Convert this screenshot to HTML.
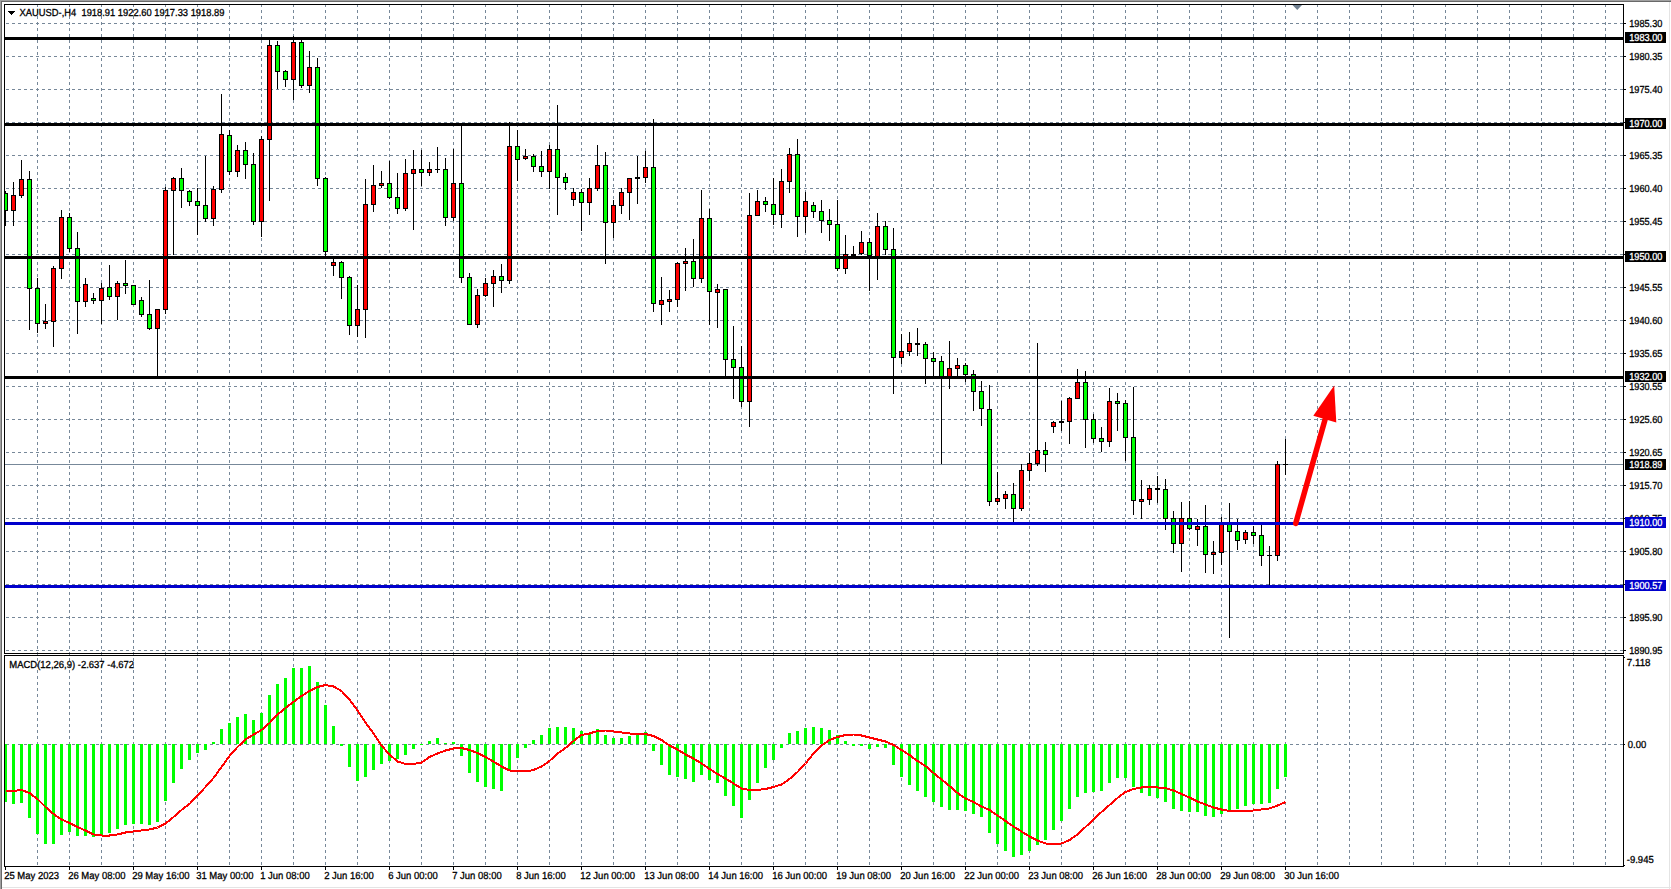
<!DOCTYPE html>
<html><head><meta charset="utf-8"><title>XAUUSD H4</title>
<style>
html,body{margin:0;padding:0;background:#fff;overflow:hidden}
svg{display:block;font-family:"Liberation Sans",sans-serif;text-rendering:geometricPrecision}
</style></head><body>
<svg width="1671" height="889" viewBox="0 0 1671 889">
<defs>
<clipPath id="cm"><rect x="5" y="5" width="1618" height="648"/></clipPath>
<clipPath id="cs"><rect x="5" y="656" width="1618" height="210"/></clipPath>
</defs>
<rect x="0" y="0" width="1671" height="889" fill="#fff"/>
<rect x="0" y="0" width="1671" height="1" fill="#a0a0a0"/>
<rect x="0" y="0" width="1" height="889" fill="#a0a0a0"/>
<rect x="1" y="1" width="1671" height="1" fill="#696969"/>
<rect x="1" y="1" width="1" height="889" fill="#696969"/>
<rect x="1669" y="2" width="1" height="889" fill="#e4e4e4"/>
<rect x="2" y="887" width="1671" height="1" fill="#e4e4e4"/>
<g shape-rendering="crispEdges" stroke="#778899" stroke-width="1" stroke-dasharray="3 3" fill="none">
<line x1="37.5" y1="4" x2="37.5" y2="866"/>
<line x1="69.5" y1="4" x2="69.5" y2="866"/>
<line x1="101.5" y1="4" x2="101.5" y2="866"/>
<line x1="133.5" y1="4" x2="133.5" y2="866"/>
<line x1="165.5" y1="4" x2="165.5" y2="866"/>
<line x1="197.5" y1="4" x2="197.5" y2="866"/>
<line x1="229.5" y1="4" x2="229.5" y2="866"/>
<line x1="261.5" y1="4" x2="261.5" y2="866"/>
<line x1="293.5" y1="4" x2="293.5" y2="866"/>
<line x1="325.5" y1="4" x2="325.5" y2="866"/>
<line x1="357.5" y1="4" x2="357.5" y2="866"/>
<line x1="389.5" y1="4" x2="389.5" y2="866"/>
<line x1="421.5" y1="4" x2="421.5" y2="866"/>
<line x1="453.5" y1="4" x2="453.5" y2="866"/>
<line x1="485.5" y1="4" x2="485.5" y2="866"/>
<line x1="517.5" y1="4" x2="517.5" y2="866"/>
<line x1="549.5" y1="4" x2="549.5" y2="866"/>
<line x1="581.5" y1="4" x2="581.5" y2="866"/>
<line x1="613.5" y1="4" x2="613.5" y2="866"/>
<line x1="645.5" y1="4" x2="645.5" y2="866"/>
<line x1="677.5" y1="4" x2="677.5" y2="866"/>
<line x1="709.5" y1="4" x2="709.5" y2="866"/>
<line x1="741.5" y1="4" x2="741.5" y2="866"/>
<line x1="773.5" y1="4" x2="773.5" y2="866"/>
<line x1="805.5" y1="4" x2="805.5" y2="866"/>
<line x1="837.5" y1="4" x2="837.5" y2="866"/>
<line x1="869.5" y1="4" x2="869.5" y2="866"/>
<line x1="901.5" y1="4" x2="901.5" y2="866"/>
<line x1="933.5" y1="4" x2="933.5" y2="866"/>
<line x1="965.5" y1="4" x2="965.5" y2="866"/>
<line x1="997.5" y1="4" x2="997.5" y2="866"/>
<line x1="1029.5" y1="4" x2="1029.5" y2="866"/>
<line x1="1061.5" y1="4" x2="1061.5" y2="866"/>
<line x1="1093.5" y1="4" x2="1093.5" y2="866"/>
<line x1="1125.5" y1="4" x2="1125.5" y2="866"/>
<line x1="1157.5" y1="4" x2="1157.5" y2="866"/>
<line x1="1189.5" y1="4" x2="1189.5" y2="866"/>
<line x1="1221.5" y1="4" x2="1221.5" y2="866"/>
<line x1="1253.5" y1="4" x2="1253.5" y2="866"/>
<line x1="1285.5" y1="4" x2="1285.5" y2="866"/>
<line x1="1317.5" y1="4" x2="1317.5" y2="866"/>
<line x1="1349.5" y1="4" x2="1349.5" y2="866"/>
<line x1="1381.5" y1="4" x2="1381.5" y2="866"/>
<line x1="1413.5" y1="4" x2="1413.5" y2="866"/>
<line x1="1445.5" y1="4" x2="1445.5" y2="866"/>
<line x1="1477.5" y1="4" x2="1477.5" y2="866"/>
<line x1="1509.5" y1="4" x2="1509.5" y2="866"/>
<line x1="1541.5" y1="4" x2="1541.5" y2="866"/>
<line x1="1573.5" y1="4" x2="1573.5" y2="866"/>
<line x1="1605.5" y1="4" x2="1605.5" y2="866"/>
<line x1="6" y1="23.5" x2="1623" y2="23.5"/>
<line x1="6" y1="56.5" x2="1623" y2="56.5"/>
<line x1="6" y1="89.5" x2="1623" y2="89.5"/>
<line x1="6" y1="122.5" x2="1623" y2="122.5"/>
<line x1="6" y1="155.5" x2="1623" y2="155.5"/>
<line x1="6" y1="188.5" x2="1623" y2="188.5"/>
<line x1="6" y1="221.5" x2="1623" y2="221.5"/>
<line x1="6" y1="254.5" x2="1623" y2="254.5"/>
<line x1="6" y1="287.5" x2="1623" y2="287.5"/>
<line x1="6" y1="320.5" x2="1623" y2="320.5"/>
<line x1="6" y1="353.5" x2="1623" y2="353.5"/>
<line x1="6" y1="386.5" x2="1623" y2="386.5"/>
<line x1="6" y1="419.5" x2="1623" y2="419.5"/>
<line x1="6" y1="452.5" x2="1623" y2="452.5"/>
<line x1="6" y1="485.5" x2="1623" y2="485.5"/>
<line x1="6" y1="518.5" x2="1623" y2="518.5"/>
<line x1="6" y1="551.5" x2="1623" y2="551.5"/>
<line x1="6" y1="584.5" x2="1623" y2="584.5"/>
<line x1="6" y1="617.5" x2="1623" y2="617.5"/>
<line x1="6" y1="650.5" x2="1623" y2="650.5"/>
<line x1="6" y1="744.5" x2="1623" y2="744.5"/>
</g>
<g shape-rendering="crispEdges">
<rect x="5" y="464" width="1618" height="1" fill="#778899"/>
</g>
<g shape-rendering="crispEdges" clip-path="url(#cm)">
<rect x="5" y="191" width="1" height="35" fill="#000"/>
<rect x="3" y="193" width="5" height="18" fill="#000"/>
<rect x="4" y="194" width="3" height="16" fill="#00ff00"/>
<rect x="13" y="182" width="1" height="44" fill="#000"/>
<rect x="11" y="195" width="5" height="16" fill="#000"/>
<rect x="12" y="196" width="3" height="14" fill="#ff0000"/>
<rect x="21" y="160" width="1" height="38" fill="#000"/>
<rect x="19" y="179" width="5" height="17" fill="#000"/>
<rect x="20" y="180" width="3" height="15" fill="#ff0000"/>
<rect x="29" y="171" width="1" height="159" fill="#000"/>
<rect x="27" y="179" width="5" height="110" fill="#000"/>
<rect x="28" y="180" width="3" height="108" fill="#00ff00"/>
<rect x="37" y="278" width="1" height="55" fill="#000"/>
<rect x="35" y="288" width="5" height="36" fill="#000"/>
<rect x="36" y="289" width="3" height="34" fill="#00ff00"/>
<rect x="45" y="304" width="1" height="25" fill="#000"/>
<rect x="43" y="321" width="5" height="3" fill="#000"/>
<rect x="44" y="322" width="3" height="1" fill="#ff0000"/>
<rect x="53" y="266" width="1" height="81" fill="#000"/>
<rect x="51" y="268" width="5" height="54" fill="#000"/>
<rect x="52" y="269" width="3" height="52" fill="#ff0000"/>
<rect x="61" y="210" width="1" height="69" fill="#000"/>
<rect x="59" y="217" width="5" height="52" fill="#000"/>
<rect x="60" y="218" width="3" height="50" fill="#ff0000"/>
<rect x="69" y="213" width="1" height="39" fill="#000"/>
<rect x="67" y="217" width="5" height="32" fill="#000"/>
<rect x="68" y="218" width="3" height="30" fill="#00ff00"/>
<rect x="77" y="232" width="1" height="102" fill="#000"/>
<rect x="75" y="248" width="5" height="54" fill="#000"/>
<rect x="76" y="249" width="3" height="52" fill="#00ff00"/>
<rect x="85" y="278" width="1" height="29" fill="#000"/>
<rect x="83" y="284" width="5" height="18" fill="#000"/>
<rect x="84" y="285" width="3" height="16" fill="#ff0000"/>
<rect x="93" y="293" width="1" height="11" fill="#000"/>
<rect x="91" y="298" width="5" height="3" fill="#000"/>
<rect x="92" y="299" width="3" height="1" fill="#00ff00"/>
<rect x="101" y="283" width="1" height="41" fill="#000"/>
<rect x="99" y="288" width="5" height="13" fill="#000"/>
<rect x="100" y="289" width="3" height="11" fill="#ff0000"/>
<rect x="109" y="265" width="1" height="35" fill="#000"/>
<rect x="107" y="287" width="5" height="10" fill="#000"/>
<rect x="108" y="288" width="3" height="8" fill="#00ff00"/>
<rect x="117" y="281" width="1" height="39" fill="#000"/>
<rect x="115" y="283" width="5" height="14" fill="#000"/>
<rect x="116" y="284" width="3" height="12" fill="#ff0000"/>
<rect x="125" y="260" width="1" height="34" fill="#000"/>
<rect x="123" y="283" width="5" height="3" fill="#000"/>
<rect x="124" y="284" width="3" height="1" fill="#00ff00"/>
<rect x="133" y="285" width="1" height="20" fill="#000"/>
<rect x="131" y="285" width="5" height="20" fill="#000"/>
<rect x="132" y="286" width="3" height="18" fill="#00ff00"/>
<rect x="141" y="297" width="1" height="20" fill="#000"/>
<rect x="139" y="300" width="5" height="15" fill="#000"/>
<rect x="140" y="301" width="3" height="13" fill="#00ff00"/>
<rect x="149" y="280" width="1" height="50" fill="#000"/>
<rect x="147" y="314" width="5" height="15" fill="#000"/>
<rect x="148" y="315" width="3" height="13" fill="#00ff00"/>
<rect x="157" y="309" width="1" height="67" fill="#000"/>
<rect x="155" y="309" width="5" height="20" fill="#000"/>
<rect x="156" y="310" width="3" height="18" fill="#ff0000"/>
<rect x="165" y="187" width="1" height="127" fill="#000"/>
<rect x="163" y="190" width="5" height="120" fill="#000"/>
<rect x="164" y="191" width="3" height="118" fill="#ff0000"/>
<rect x="173" y="177" width="1" height="78" fill="#000"/>
<rect x="171" y="178" width="5" height="13" fill="#000"/>
<rect x="172" y="179" width="3" height="11" fill="#ff0000"/>
<rect x="181" y="168" width="1" height="40" fill="#000"/>
<rect x="179" y="178" width="5" height="13" fill="#000"/>
<rect x="180" y="179" width="3" height="11" fill="#00ff00"/>
<rect x="189" y="190" width="1" height="16" fill="#000"/>
<rect x="187" y="191" width="5" height="11" fill="#000"/>
<rect x="188" y="192" width="3" height="9" fill="#00ff00"/>
<rect x="197" y="188" width="1" height="47" fill="#000"/>
<rect x="195" y="201" width="5" height="5" fill="#000"/>
<rect x="196" y="202" width="3" height="3" fill="#00ff00"/>
<rect x="205" y="156" width="1" height="66" fill="#000"/>
<rect x="203" y="205" width="5" height="14" fill="#000"/>
<rect x="204" y="206" width="3" height="12" fill="#00ff00"/>
<rect x="213" y="186" width="1" height="40" fill="#000"/>
<rect x="211" y="189" width="5" height="30" fill="#000"/>
<rect x="212" y="190" width="3" height="28" fill="#ff0000"/>
<rect x="221" y="94" width="1" height="99" fill="#000"/>
<rect x="219" y="134" width="5" height="56" fill="#000"/>
<rect x="220" y="135" width="3" height="54" fill="#ff0000"/>
<rect x="229" y="130" width="1" height="45" fill="#000"/>
<rect x="227" y="135" width="5" height="37" fill="#000"/>
<rect x="228" y="136" width="3" height="35" fill="#00ff00"/>
<rect x="237" y="145" width="1" height="32" fill="#000"/>
<rect x="235" y="150" width="5" height="22" fill="#000"/>
<rect x="236" y="151" width="3" height="20" fill="#ff0000"/>
<rect x="245" y="142" width="1" height="37" fill="#000"/>
<rect x="243" y="150" width="5" height="15" fill="#000"/>
<rect x="244" y="151" width="3" height="13" fill="#00ff00"/>
<rect x="253" y="153" width="1" height="72" fill="#000"/>
<rect x="251" y="164" width="5" height="58" fill="#000"/>
<rect x="252" y="165" width="3" height="56" fill="#00ff00"/>
<rect x="261" y="136" width="1" height="101" fill="#000"/>
<rect x="259" y="139" width="5" height="83" fill="#000"/>
<rect x="260" y="140" width="3" height="81" fill="#ff0000"/>
<rect x="269" y="39" width="1" height="162" fill="#000"/>
<rect x="267" y="45" width="5" height="95" fill="#000"/>
<rect x="268" y="46" width="3" height="93" fill="#ff0000"/>
<rect x="277" y="41" width="1" height="48" fill="#000"/>
<rect x="275" y="45" width="5" height="27" fill="#000"/>
<rect x="276" y="46" width="3" height="25" fill="#00ff00"/>
<rect x="285" y="70" width="1" height="17" fill="#000"/>
<rect x="283" y="71" width="5" height="9" fill="#000"/>
<rect x="284" y="72" width="3" height="7" fill="#00ff00"/>
<rect x="293" y="36" width="1" height="64" fill="#000"/>
<rect x="291" y="42" width="5" height="38" fill="#000"/>
<rect x="292" y="43" width="3" height="36" fill="#ff0000"/>
<rect x="301" y="40" width="1" height="48" fill="#000"/>
<rect x="299" y="42" width="5" height="44" fill="#000"/>
<rect x="300" y="43" width="3" height="42" fill="#00ff00"/>
<rect x="309" y="51" width="1" height="42" fill="#000"/>
<rect x="307" y="67" width="5" height="19" fill="#000"/>
<rect x="308" y="68" width="3" height="17" fill="#ff0000"/>
<rect x="317" y="58" width="1" height="128" fill="#000"/>
<rect x="315" y="67" width="5" height="112" fill="#000"/>
<rect x="316" y="68" width="3" height="110" fill="#00ff00"/>
<rect x="325" y="177" width="1" height="79" fill="#000"/>
<rect x="323" y="178" width="5" height="74" fill="#000"/>
<rect x="324" y="179" width="3" height="72" fill="#00ff00"/>
<rect x="333" y="259" width="1" height="17" fill="#000"/>
<rect x="331" y="262" width="5" height="4" fill="#000"/>
<rect x="332" y="263" width="3" height="2" fill="#ff0000"/>
<rect x="341" y="261" width="1" height="38" fill="#000"/>
<rect x="339" y="262" width="5" height="16" fill="#000"/>
<rect x="340" y="263" width="3" height="14" fill="#00ff00"/>
<rect x="349" y="276" width="1" height="59" fill="#000"/>
<rect x="347" y="277" width="5" height="49" fill="#000"/>
<rect x="348" y="278" width="3" height="47" fill="#00ff00"/>
<rect x="357" y="285" width="1" height="52" fill="#000"/>
<rect x="355" y="309" width="5" height="17" fill="#000"/>
<rect x="356" y="310" width="3" height="15" fill="#ff0000"/>
<rect x="365" y="179" width="1" height="159" fill="#000"/>
<rect x="363" y="204" width="5" height="106" fill="#000"/>
<rect x="364" y="205" width="3" height="104" fill="#ff0000"/>
<rect x="373" y="165" width="1" height="47" fill="#000"/>
<rect x="371" y="185" width="5" height="20" fill="#000"/>
<rect x="372" y="186" width="3" height="18" fill="#ff0000"/>
<rect x="381" y="171" width="1" height="17" fill="#000"/>
<rect x="379" y="183" width="5" height="3" fill="#000"/>
<rect x="380" y="184" width="3" height="1" fill="#ff0000"/>
<rect x="389" y="161" width="1" height="38" fill="#000"/>
<rect x="387" y="183" width="5" height="15" fill="#000"/>
<rect x="388" y="184" width="3" height="13" fill="#00ff00"/>
<rect x="397" y="173" width="1" height="41" fill="#000"/>
<rect x="395" y="197" width="5" height="12" fill="#000"/>
<rect x="396" y="198" width="3" height="10" fill="#00ff00"/>
<rect x="405" y="159" width="1" height="52" fill="#000"/>
<rect x="403" y="173" width="5" height="36" fill="#000"/>
<rect x="404" y="174" width="3" height="34" fill="#ff0000"/>
<rect x="413" y="150" width="1" height="80" fill="#000"/>
<rect x="411" y="169" width="5" height="5" fill="#000"/>
<rect x="412" y="170" width="3" height="3" fill="#ff0000"/>
<rect x="421" y="150" width="1" height="36" fill="#000"/>
<rect x="419" y="169" width="5" height="4" fill="#000"/>
<rect x="420" y="170" width="3" height="2" fill="#00ff00"/>
<rect x="429" y="162" width="1" height="14" fill="#000"/>
<rect x="427" y="169" width="5" height="4" fill="#000"/>
<rect x="428" y="170" width="3" height="2" fill="#ff0000"/>
<rect x="437" y="147" width="1" height="26" fill="#000"/>
<rect x="435" y="169" width="5" height="1" fill="#000"/>
<rect x="445" y="158" width="1" height="68" fill="#000"/>
<rect x="443" y="169" width="5" height="49" fill="#000"/>
<rect x="444" y="170" width="3" height="47" fill="#00ff00"/>
<rect x="453" y="149" width="1" height="72" fill="#000"/>
<rect x="451" y="183" width="5" height="35" fill="#000"/>
<rect x="452" y="184" width="3" height="33" fill="#ff0000"/>
<rect x="461" y="123" width="1" height="160" fill="#000"/>
<rect x="459" y="183" width="5" height="95" fill="#000"/>
<rect x="460" y="184" width="3" height="93" fill="#00ff00"/>
<rect x="469" y="273" width="1" height="52" fill="#000"/>
<rect x="467" y="277" width="5" height="48" fill="#000"/>
<rect x="468" y="278" width="3" height="46" fill="#00ff00"/>
<rect x="477" y="289" width="1" height="39" fill="#000"/>
<rect x="475" y="295" width="5" height="30" fill="#000"/>
<rect x="476" y="296" width="3" height="28" fill="#ff0000"/>
<rect x="485" y="278" width="1" height="19" fill="#000"/>
<rect x="483" y="283" width="5" height="13" fill="#000"/>
<rect x="484" y="284" width="3" height="11" fill="#ff0000"/>
<rect x="493" y="270" width="1" height="37" fill="#000"/>
<rect x="491" y="276" width="5" height="8" fill="#000"/>
<rect x="492" y="277" width="3" height="6" fill="#ff0000"/>
<rect x="501" y="264" width="1" height="29" fill="#000"/>
<rect x="499" y="276" width="5" height="5" fill="#000"/>
<rect x="500" y="277" width="3" height="3" fill="#00ff00"/>
<rect x="509" y="122" width="1" height="162" fill="#000"/>
<rect x="507" y="146" width="5" height="135" fill="#000"/>
<rect x="508" y="147" width="3" height="133" fill="#ff0000"/>
<rect x="517" y="130" width="1" height="51" fill="#000"/>
<rect x="515" y="146" width="5" height="14" fill="#000"/>
<rect x="516" y="147" width="3" height="12" fill="#00ff00"/>
<rect x="525" y="149" width="1" height="11" fill="#000"/>
<rect x="523" y="156" width="5" height="3" fill="#000"/>
<rect x="524" y="157" width="3" height="1" fill="#ff0000"/>
<rect x="533" y="154" width="1" height="18" fill="#000"/>
<rect x="531" y="156" width="5" height="11" fill="#000"/>
<rect x="532" y="157" width="3" height="9" fill="#00ff00"/>
<rect x="541" y="151" width="1" height="26" fill="#000"/>
<rect x="539" y="166" width="5" height="6" fill="#000"/>
<rect x="540" y="167" width="3" height="4" fill="#00ff00"/>
<rect x="549" y="145" width="1" height="44" fill="#000"/>
<rect x="547" y="149" width="5" height="23" fill="#000"/>
<rect x="548" y="150" width="3" height="21" fill="#ff0000"/>
<rect x="557" y="105" width="1" height="110" fill="#000"/>
<rect x="555" y="149" width="5" height="29" fill="#000"/>
<rect x="556" y="150" width="3" height="27" fill="#00ff00"/>
<rect x="565" y="173" width="1" height="17" fill="#000"/>
<rect x="563" y="177" width="5" height="6" fill="#000"/>
<rect x="564" y="178" width="3" height="4" fill="#00ff00"/>
<rect x="573" y="188" width="1" height="18" fill="#000"/>
<rect x="571" y="192" width="5" height="8" fill="#000"/>
<rect x="572" y="193" width="3" height="6" fill="#ff0000"/>
<rect x="581" y="189" width="1" height="42" fill="#000"/>
<rect x="579" y="192" width="5" height="11" fill="#000"/>
<rect x="580" y="193" width="3" height="9" fill="#00ff00"/>
<rect x="589" y="178" width="1" height="37" fill="#000"/>
<rect x="587" y="188" width="5" height="15" fill="#000"/>
<rect x="588" y="189" width="3" height="13" fill="#ff0000"/>
<rect x="597" y="145" width="1" height="46" fill="#000"/>
<rect x="595" y="165" width="5" height="24" fill="#000"/>
<rect x="596" y="166" width="3" height="22" fill="#ff0000"/>
<rect x="605" y="152" width="1" height="112" fill="#000"/>
<rect x="603" y="165" width="5" height="58" fill="#000"/>
<rect x="604" y="166" width="3" height="56" fill="#00ff00"/>
<rect x="613" y="200" width="1" height="38" fill="#000"/>
<rect x="611" y="205" width="5" height="18" fill="#000"/>
<rect x="612" y="206" width="3" height="16" fill="#ff0000"/>
<rect x="621" y="188" width="1" height="26" fill="#000"/>
<rect x="619" y="192" width="5" height="14" fill="#000"/>
<rect x="620" y="193" width="3" height="12" fill="#ff0000"/>
<rect x="629" y="178" width="1" height="42" fill="#000"/>
<rect x="627" y="178" width="5" height="15" fill="#000"/>
<rect x="628" y="179" width="3" height="13" fill="#ff0000"/>
<rect x="637" y="156" width="1" height="48" fill="#000"/>
<rect x="635" y="177" width="5" height="2" fill="#000"/>
<rect x="645" y="151" width="1" height="32" fill="#000"/>
<rect x="643" y="167" width="5" height="11" fill="#000"/>
<rect x="644" y="168" width="3" height="9" fill="#ff0000"/>
<rect x="653" y="119" width="1" height="193" fill="#000"/>
<rect x="651" y="167" width="5" height="137" fill="#000"/>
<rect x="652" y="168" width="3" height="135" fill="#00ff00"/>
<rect x="661" y="277" width="1" height="48" fill="#000"/>
<rect x="659" y="300" width="5" height="5" fill="#000"/>
<rect x="660" y="301" width="3" height="3" fill="#ff0000"/>
<rect x="669" y="290" width="1" height="22" fill="#000"/>
<rect x="667" y="299" width="5" height="3" fill="#000"/>
<rect x="668" y="300" width="3" height="1" fill="#ff0000"/>
<rect x="677" y="262" width="1" height="45" fill="#000"/>
<rect x="675" y="263" width="5" height="37" fill="#000"/>
<rect x="676" y="264" width="3" height="35" fill="#ff0000"/>
<rect x="685" y="248" width="1" height="43" fill="#000"/>
<rect x="683" y="261" width="5" height="3" fill="#000"/>
<rect x="684" y="262" width="3" height="1" fill="#ff0000"/>
<rect x="693" y="239" width="1" height="48" fill="#000"/>
<rect x="691" y="261" width="5" height="18" fill="#000"/>
<rect x="692" y="262" width="3" height="16" fill="#00ff00"/>
<rect x="701" y="190" width="1" height="93" fill="#000"/>
<rect x="699" y="218" width="5" height="61" fill="#000"/>
<rect x="700" y="219" width="3" height="59" fill="#ff0000"/>
<rect x="709" y="209" width="1" height="116" fill="#000"/>
<rect x="707" y="218" width="5" height="74" fill="#000"/>
<rect x="708" y="219" width="3" height="72" fill="#00ff00"/>
<rect x="717" y="284" width="1" height="44" fill="#000"/>
<rect x="715" y="289" width="5" height="4" fill="#000"/>
<rect x="716" y="290" width="3" height="2" fill="#ff0000"/>
<rect x="725" y="289" width="1" height="87" fill="#000"/>
<rect x="723" y="289" width="5" height="71" fill="#000"/>
<rect x="724" y="290" width="3" height="69" fill="#00ff00"/>
<rect x="733" y="326" width="1" height="73" fill="#000"/>
<rect x="731" y="359" width="5" height="9" fill="#000"/>
<rect x="732" y="360" width="3" height="7" fill="#00ff00"/>
<rect x="741" y="346" width="1" height="61" fill="#000"/>
<rect x="739" y="367" width="5" height="35" fill="#000"/>
<rect x="740" y="368" width="3" height="33" fill="#00ff00"/>
<rect x="749" y="193" width="1" height="234" fill="#000"/>
<rect x="747" y="215" width="5" height="187" fill="#000"/>
<rect x="748" y="216" width="3" height="185" fill="#ff0000"/>
<rect x="757" y="190" width="1" height="26" fill="#000"/>
<rect x="755" y="201" width="5" height="15" fill="#000"/>
<rect x="756" y="202" width="3" height="13" fill="#ff0000"/>
<rect x="765" y="197" width="1" height="15" fill="#000"/>
<rect x="763" y="201" width="5" height="4" fill="#000"/>
<rect x="764" y="202" width="3" height="2" fill="#00ff00"/>
<rect x="773" y="178" width="1" height="47" fill="#000"/>
<rect x="771" y="204" width="5" height="11" fill="#000"/>
<rect x="772" y="205" width="3" height="9" fill="#00ff00"/>
<rect x="781" y="169" width="1" height="59" fill="#000"/>
<rect x="779" y="181" width="5" height="34" fill="#000"/>
<rect x="780" y="182" width="3" height="32" fill="#ff0000"/>
<rect x="789" y="148" width="1" height="45" fill="#000"/>
<rect x="787" y="154" width="5" height="28" fill="#000"/>
<rect x="788" y="155" width="3" height="26" fill="#ff0000"/>
<rect x="797" y="139" width="1" height="98" fill="#000"/>
<rect x="795" y="154" width="5" height="63" fill="#000"/>
<rect x="796" y="155" width="3" height="61" fill="#00ff00"/>
<rect x="805" y="192" width="1" height="41" fill="#000"/>
<rect x="803" y="201" width="5" height="16" fill="#000"/>
<rect x="804" y="202" width="3" height="14" fill="#ff0000"/>
<rect x="813" y="202" width="1" height="16" fill="#000"/>
<rect x="811" y="205" width="5" height="7" fill="#000"/>
<rect x="812" y="206" width="3" height="5" fill="#00ff00"/>
<rect x="821" y="200" width="1" height="33" fill="#000"/>
<rect x="819" y="211" width="5" height="10" fill="#000"/>
<rect x="820" y="212" width="3" height="8" fill="#00ff00"/>
<rect x="829" y="209" width="1" height="32" fill="#000"/>
<rect x="827" y="220" width="5" height="5" fill="#000"/>
<rect x="828" y="221" width="3" height="3" fill="#00ff00"/>
<rect x="837" y="200" width="1" height="71" fill="#000"/>
<rect x="835" y="224" width="5" height="45" fill="#000"/>
<rect x="836" y="225" width="3" height="43" fill="#00ff00"/>
<rect x="845" y="235" width="1" height="39" fill="#000"/>
<rect x="843" y="254" width="5" height="15" fill="#000"/>
<rect x="844" y="255" width="3" height="13" fill="#ff0000"/>
<rect x="853" y="246" width="1" height="10" fill="#000"/>
<rect x="851" y="254" width="5" height="2" fill="#000"/>
<rect x="861" y="231" width="1" height="24" fill="#000"/>
<rect x="859" y="242" width="5" height="12" fill="#000"/>
<rect x="860" y="243" width="3" height="10" fill="#ff0000"/>
<rect x="869" y="238" width="1" height="53" fill="#000"/>
<rect x="867" y="242" width="5" height="14" fill="#000"/>
<rect x="868" y="243" width="3" height="12" fill="#00ff00"/>
<rect x="877" y="213" width="1" height="67" fill="#000"/>
<rect x="875" y="226" width="5" height="31" fill="#000"/>
<rect x="876" y="227" width="3" height="29" fill="#ff0000"/>
<rect x="885" y="221" width="1" height="34" fill="#000"/>
<rect x="883" y="226" width="5" height="24" fill="#000"/>
<rect x="884" y="227" width="3" height="22" fill="#00ff00"/>
<rect x="893" y="228" width="1" height="166" fill="#000"/>
<rect x="891" y="249" width="5" height="109" fill="#000"/>
<rect x="892" y="250" width="3" height="107" fill="#00ff00"/>
<rect x="901" y="334" width="1" height="30" fill="#000"/>
<rect x="899" y="351" width="5" height="7" fill="#000"/>
<rect x="900" y="352" width="3" height="5" fill="#ff0000"/>
<rect x="909" y="332" width="1" height="24" fill="#000"/>
<rect x="907" y="343" width="5" height="9" fill="#000"/>
<rect x="908" y="344" width="3" height="7" fill="#ff0000"/>
<rect x="917" y="328" width="1" height="28" fill="#000"/>
<rect x="915" y="343" width="5" height="2" fill="#000"/>
<rect x="925" y="342" width="1" height="42" fill="#000"/>
<rect x="923" y="344" width="5" height="15" fill="#000"/>
<rect x="924" y="345" width="3" height="13" fill="#00ff00"/>
<rect x="933" y="352" width="1" height="24" fill="#000"/>
<rect x="931" y="358" width="5" height="4" fill="#000"/>
<rect x="932" y="359" width="3" height="2" fill="#00ff00"/>
<rect x="941" y="356" width="1" height="108" fill="#000"/>
<rect x="939" y="361" width="5" height="17" fill="#000"/>
<rect x="940" y="362" width="3" height="15" fill="#00ff00"/>
<rect x="949" y="341" width="1" height="48" fill="#000"/>
<rect x="947" y="368" width="5" height="10" fill="#000"/>
<rect x="948" y="369" width="3" height="8" fill="#ff0000"/>
<rect x="957" y="358" width="1" height="18" fill="#000"/>
<rect x="955" y="365" width="5" height="4" fill="#000"/>
<rect x="956" y="366" width="3" height="2" fill="#ff0000"/>
<rect x="965" y="363" width="1" height="19" fill="#000"/>
<rect x="963" y="365" width="5" height="10" fill="#000"/>
<rect x="964" y="366" width="3" height="8" fill="#00ff00"/>
<rect x="973" y="370" width="1" height="41" fill="#000"/>
<rect x="971" y="374" width="5" height="18" fill="#000"/>
<rect x="972" y="375" width="3" height="16" fill="#00ff00"/>
<rect x="981" y="381" width="1" height="45" fill="#000"/>
<rect x="979" y="391" width="5" height="18" fill="#000"/>
<rect x="980" y="392" width="3" height="16" fill="#00ff00"/>
<rect x="989" y="385" width="1" height="121" fill="#000"/>
<rect x="987" y="409" width="5" height="93" fill="#000"/>
<rect x="988" y="410" width="3" height="91" fill="#00ff00"/>
<rect x="997" y="472" width="1" height="33" fill="#000"/>
<rect x="995" y="498" width="5" height="4" fill="#000"/>
<rect x="996" y="499" width="3" height="2" fill="#ff0000"/>
<rect x="1005" y="491" width="1" height="18" fill="#000"/>
<rect x="1003" y="494" width="5" height="5" fill="#000"/>
<rect x="1004" y="495" width="3" height="3" fill="#ff0000"/>
<rect x="1013" y="483" width="1" height="39" fill="#000"/>
<rect x="1011" y="494" width="5" height="15" fill="#000"/>
<rect x="1012" y="495" width="3" height="13" fill="#00ff00"/>
<rect x="1021" y="464" width="1" height="47" fill="#000"/>
<rect x="1019" y="470" width="5" height="39" fill="#000"/>
<rect x="1020" y="471" width="3" height="37" fill="#ff0000"/>
<rect x="1029" y="453" width="1" height="28" fill="#000"/>
<rect x="1027" y="463" width="5" height="8" fill="#000"/>
<rect x="1028" y="464" width="3" height="6" fill="#ff0000"/>
<rect x="1037" y="343" width="1" height="123" fill="#000"/>
<rect x="1035" y="450" width="5" height="14" fill="#000"/>
<rect x="1036" y="451" width="3" height="12" fill="#ff0000"/>
<rect x="1045" y="442" width="1" height="30" fill="#000"/>
<rect x="1043" y="450" width="5" height="5" fill="#000"/>
<rect x="1044" y="451" width="3" height="3" fill="#00ff00"/>
<rect x="1053" y="421" width="1" height="12" fill="#000"/>
<rect x="1051" y="422" width="5" height="5" fill="#000"/>
<rect x="1052" y="423" width="3" height="3" fill="#ff0000"/>
<rect x="1061" y="401" width="1" height="30" fill="#000"/>
<rect x="1059" y="421" width="5" height="2" fill="#000"/>
<rect x="1069" y="397" width="1" height="47" fill="#000"/>
<rect x="1067" y="398" width="5" height="24" fill="#000"/>
<rect x="1068" y="399" width="3" height="22" fill="#ff0000"/>
<rect x="1077" y="369" width="1" height="30" fill="#000"/>
<rect x="1075" y="382" width="5" height="17" fill="#000"/>
<rect x="1076" y="383" width="3" height="15" fill="#ff0000"/>
<rect x="1085" y="371" width="1" height="77" fill="#000"/>
<rect x="1083" y="382" width="5" height="38" fill="#000"/>
<rect x="1084" y="383" width="3" height="36" fill="#00ff00"/>
<rect x="1093" y="414" width="1" height="29" fill="#000"/>
<rect x="1091" y="419" width="5" height="20" fill="#000"/>
<rect x="1092" y="420" width="3" height="18" fill="#00ff00"/>
<rect x="1101" y="427" width="1" height="25" fill="#000"/>
<rect x="1099" y="438" width="5" height="4" fill="#000"/>
<rect x="1100" y="439" width="3" height="2" fill="#00ff00"/>
<rect x="1109" y="388" width="1" height="59" fill="#000"/>
<rect x="1107" y="401" width="5" height="41" fill="#000"/>
<rect x="1108" y="402" width="3" height="39" fill="#ff0000"/>
<rect x="1117" y="393" width="1" height="38" fill="#000"/>
<rect x="1115" y="401" width="5" height="3" fill="#000"/>
<rect x="1116" y="402" width="3" height="1" fill="#00ff00"/>
<rect x="1125" y="400" width="1" height="61" fill="#000"/>
<rect x="1123" y="403" width="5" height="35" fill="#000"/>
<rect x="1124" y="404" width="3" height="33" fill="#00ff00"/>
<rect x="1133" y="387" width="1" height="128" fill="#000"/>
<rect x="1131" y="437" width="5" height="64" fill="#000"/>
<rect x="1132" y="438" width="3" height="62" fill="#00ff00"/>
<rect x="1141" y="480" width="1" height="39" fill="#000"/>
<rect x="1139" y="499" width="5" height="3" fill="#000"/>
<rect x="1140" y="500" width="3" height="1" fill="#ff0000"/>
<rect x="1149" y="485" width="1" height="20" fill="#000"/>
<rect x="1147" y="488" width="5" height="12" fill="#000"/>
<rect x="1148" y="489" width="3" height="10" fill="#ff0000"/>
<rect x="1157" y="476" width="1" height="27" fill="#000"/>
<rect x="1155" y="488" width="5" height="2" fill="#000"/>
<rect x="1165" y="479" width="1" height="51" fill="#000"/>
<rect x="1163" y="489" width="5" height="30" fill="#000"/>
<rect x="1164" y="490" width="3" height="28" fill="#00ff00"/>
<rect x="1173" y="511" width="1" height="42" fill="#000"/>
<rect x="1171" y="518" width="5" height="26" fill="#000"/>
<rect x="1172" y="519" width="3" height="24" fill="#00ff00"/>
<rect x="1181" y="502" width="1" height="70" fill="#000"/>
<rect x="1179" y="518" width="5" height="26" fill="#000"/>
<rect x="1180" y="519" width="3" height="24" fill="#ff0000"/>
<rect x="1189" y="501" width="1" height="29" fill="#000"/>
<rect x="1187" y="518" width="5" height="11" fill="#000"/>
<rect x="1188" y="519" width="3" height="9" fill="#00ff00"/>
<rect x="1197" y="519" width="1" height="27" fill="#000"/>
<rect x="1195" y="526" width="5" height="4" fill="#000"/>
<rect x="1196" y="527" width="3" height="2" fill="#ff0000"/>
<rect x="1205" y="505" width="1" height="68" fill="#000"/>
<rect x="1203" y="526" width="5" height="29" fill="#000"/>
<rect x="1204" y="527" width="3" height="27" fill="#00ff00"/>
<rect x="1213" y="541" width="1" height="33" fill="#000"/>
<rect x="1211" y="552" width="5" height="3" fill="#000"/>
<rect x="1212" y="553" width="3" height="1" fill="#ff0000"/>
<rect x="1221" y="517" width="1" height="48" fill="#000"/>
<rect x="1219" y="523" width="5" height="30" fill="#000"/>
<rect x="1220" y="524" width="3" height="28" fill="#ff0000"/>
<rect x="1229" y="503" width="1" height="135" fill="#000"/>
<rect x="1227" y="524" width="5" height="8" fill="#000"/>
<rect x="1228" y="525" width="3" height="6" fill="#00ff00"/>
<rect x="1237" y="519" width="1" height="31" fill="#000"/>
<rect x="1235" y="531" width="5" height="10" fill="#000"/>
<rect x="1236" y="532" width="3" height="8" fill="#00ff00"/>
<rect x="1245" y="530" width="1" height="14" fill="#000"/>
<rect x="1243" y="532" width="5" height="8" fill="#000"/>
<rect x="1244" y="533" width="3" height="6" fill="#ff0000"/>
<rect x="1253" y="526" width="1" height="18" fill="#000"/>
<rect x="1251" y="532" width="5" height="4" fill="#000"/>
<rect x="1252" y="533" width="3" height="2" fill="#00ff00"/>
<rect x="1261" y="525" width="1" height="41" fill="#000"/>
<rect x="1259" y="535" width="5" height="21" fill="#000"/>
<rect x="1260" y="536" width="3" height="19" fill="#00ff00"/>
<rect x="1269" y="546" width="1" height="39" fill="#000"/>
<rect x="1267" y="555" width="5" height="1" fill="#000"/>
<rect x="1277" y="461" width="1" height="100" fill="#000"/>
<rect x="1275" y="464" width="5" height="92" fill="#000"/>
<rect x="1276" y="465" width="3" height="90" fill="#ff0000"/>
<rect x="1285" y="439" width="1" height="36" fill="#000"/>
<rect x="1283" y="464" width="5" height="1" fill="#000"/>
</g>
<g shape-rendering="crispEdges" clip-path="url(#cs)">
<rect x="4" y="744" width="3" height="58" fill="#00ff00"/>
<rect x="12" y="744" width="3" height="60" fill="#00ff00"/>
<rect x="20" y="744" width="3" height="59" fill="#00ff00"/>
<rect x="28" y="744" width="3" height="74" fill="#00ff00"/>
<rect x="36" y="744" width="3" height="90" fill="#00ff00"/>
<rect x="44" y="744" width="3" height="100" fill="#00ff00"/>
<rect x="52" y="744" width="3" height="100" fill="#00ff00"/>
<rect x="60" y="744" width="3" height="91" fill="#00ff00"/>
<rect x="68" y="744" width="3" height="88" fill="#00ff00"/>
<rect x="76" y="744" width="3" height="92" fill="#00ff00"/>
<rect x="84" y="744" width="3" height="92" fill="#00ff00"/>
<rect x="92" y="744" width="3" height="93" fill="#00ff00"/>
<rect x="100" y="744" width="3" height="92" fill="#00ff00"/>
<rect x="108" y="744" width="3" height="89" fill="#00ff00"/>
<rect x="116" y="744" width="3" height="85" fill="#00ff00"/>
<rect x="124" y="744" width="3" height="81" fill="#00ff00"/>
<rect x="132" y="744" width="3" height="80" fill="#00ff00"/>
<rect x="140" y="744" width="3" height="80" fill="#00ff00"/>
<rect x="148" y="744" width="3" height="81" fill="#00ff00"/>
<rect x="156" y="744" width="3" height="78" fill="#00ff00"/>
<rect x="164" y="744" width="3" height="57" fill="#00ff00"/>
<rect x="172" y="744" width="3" height="39" fill="#00ff00"/>
<rect x="180" y="744" width="3" height="25" fill="#00ff00"/>
<rect x="188" y="744" width="3" height="16" fill="#00ff00"/>
<rect x="196" y="744" width="3" height="9" fill="#00ff00"/>
<rect x="204" y="744" width="3" height="6" fill="#00ff00"/>
<rect x="212" y="742" width="3" height="2" fill="#00ff00"/>
<rect x="220" y="729" width="3" height="15" fill="#00ff00"/>
<rect x="228" y="723" width="3" height="21" fill="#00ff00"/>
<rect x="236" y="717" width="3" height="27" fill="#00ff00"/>
<rect x="244" y="714" width="3" height="30" fill="#00ff00"/>
<rect x="252" y="720" width="3" height="24" fill="#00ff00"/>
<rect x="260" y="713" width="3" height="31" fill="#00ff00"/>
<rect x="268" y="695" width="3" height="49" fill="#00ff00"/>
<rect x="276" y="684" width="3" height="60" fill="#00ff00"/>
<rect x="284" y="678" width="3" height="66" fill="#00ff00"/>
<rect x="292" y="668" width="3" height="76" fill="#00ff00"/>
<rect x="300" y="668" width="3" height="76" fill="#00ff00"/>
<rect x="308" y="666" width="3" height="78" fill="#00ff00"/>
<rect x="316" y="682" width="3" height="62" fill="#00ff00"/>
<rect x="324" y="705" width="3" height="39" fill="#00ff00"/>
<rect x="332" y="726" width="3" height="18" fill="#00ff00"/>
<rect x="340" y="744" width="3" height="2" fill="#00ff00"/>
<rect x="348" y="744" width="3" height="23" fill="#00ff00"/>
<rect x="356" y="744" width="3" height="37" fill="#00ff00"/>
<rect x="364" y="744" width="3" height="33" fill="#00ff00"/>
<rect x="372" y="744" width="3" height="26" fill="#00ff00"/>
<rect x="380" y="744" width="3" height="20" fill="#00ff00"/>
<rect x="388" y="744" width="3" height="17" fill="#00ff00"/>
<rect x="396" y="744" width="3" height="15" fill="#00ff00"/>
<rect x="404" y="744" width="3" height="11" fill="#00ff00"/>
<rect x="412" y="744" width="3" height="5" fill="#00ff00"/>
<rect x="420" y="744" width="3" height="1" fill="#00ff00"/>
<rect x="428" y="741" width="3" height="3" fill="#00ff00"/>
<rect x="436" y="738" width="3" height="6" fill="#00ff00"/>
<rect x="444" y="743" width="3" height="1" fill="#00ff00"/>
<rect x="452" y="742" width="3" height="2" fill="#00ff00"/>
<rect x="460" y="744" width="3" height="12" fill="#00ff00"/>
<rect x="468" y="744" width="3" height="29" fill="#00ff00"/>
<rect x="476" y="744" width="3" height="38" fill="#00ff00"/>
<rect x="484" y="744" width="3" height="43" fill="#00ff00"/>
<rect x="492" y="744" width="3" height="45" fill="#00ff00"/>
<rect x="500" y="744" width="3" height="47" fill="#00ff00"/>
<rect x="508" y="744" width="3" height="27" fill="#00ff00"/>
<rect x="516" y="744" width="3" height="14" fill="#00ff00"/>
<rect x="524" y="744" width="3" height="4" fill="#00ff00"/>
<rect x="532" y="740" width="3" height="4" fill="#00ff00"/>
<rect x="540" y="735" width="3" height="9" fill="#00ff00"/>
<rect x="548" y="728" width="3" height="16" fill="#00ff00"/>
<rect x="556" y="727" width="3" height="17" fill="#00ff00"/>
<rect x="564" y="727" width="3" height="17" fill="#00ff00"/>
<rect x="572" y="728" width="3" height="16" fill="#00ff00"/>
<rect x="580" y="731" width="3" height="13" fill="#00ff00"/>
<rect x="588" y="734" width="3" height="10" fill="#00ff00"/>
<rect x="596" y="729" width="3" height="15" fill="#00ff00"/>
<rect x="604" y="735" width="3" height="9" fill="#00ff00"/>
<rect x="612" y="738" width="3" height="6" fill="#00ff00"/>
<rect x="620" y="738" width="3" height="6" fill="#00ff00"/>
<rect x="628" y="736" width="3" height="8" fill="#00ff00"/>
<rect x="636" y="735" width="3" height="9" fill="#00ff00"/>
<rect x="644" y="732" width="3" height="12" fill="#00ff00"/>
<rect x="652" y="744" width="3" height="7" fill="#00ff00"/>
<rect x="660" y="744" width="3" height="21" fill="#00ff00"/>
<rect x="668" y="744" width="3" height="31" fill="#00ff00"/>
<rect x="676" y="744" width="3" height="33" fill="#00ff00"/>
<rect x="684" y="744" width="3" height="35" fill="#00ff00"/>
<rect x="692" y="744" width="3" height="38" fill="#00ff00"/>
<rect x="700" y="744" width="3" height="31" fill="#00ff00"/>
<rect x="708" y="744" width="3" height="36" fill="#00ff00"/>
<rect x="716" y="744" width="3" height="39" fill="#00ff00"/>
<rect x="724" y="744" width="3" height="52" fill="#00ff00"/>
<rect x="732" y="744" width="3" height="62" fill="#00ff00"/>
<rect x="740" y="744" width="3" height="74" fill="#00ff00"/>
<rect x="748" y="744" width="3" height="56" fill="#00ff00"/>
<rect x="756" y="744" width="3" height="39" fill="#00ff00"/>
<rect x="764" y="744" width="3" height="24" fill="#00ff00"/>
<rect x="772" y="744" width="3" height="16" fill="#00ff00"/>
<rect x="780" y="744" width="3" height="4" fill="#00ff00"/>
<rect x="788" y="733" width="3" height="11" fill="#00ff00"/>
<rect x="796" y="731" width="3" height="13" fill="#00ff00"/>
<rect x="804" y="728" width="3" height="16" fill="#00ff00"/>
<rect x="812" y="727" width="3" height="17" fill="#00ff00"/>
<rect x="820" y="728" width="3" height="16" fill="#00ff00"/>
<rect x="828" y="730" width="3" height="14" fill="#00ff00"/>
<rect x="836" y="735" width="3" height="9" fill="#00ff00"/>
<rect x="844" y="741" width="3" height="3" fill="#00ff00"/>
<rect x="852" y="744" width="3" height="2" fill="#00ff00"/>
<rect x="860" y="744" width="3" height="2" fill="#00ff00"/>
<rect x="868" y="744" width="3" height="5" fill="#00ff00"/>
<rect x="876" y="744" width="3" height="3" fill="#00ff00"/>
<rect x="884" y="744" width="3" height="4" fill="#00ff00"/>
<rect x="892" y="744" width="3" height="21" fill="#00ff00"/>
<rect x="900" y="744" width="3" height="33" fill="#00ff00"/>
<rect x="908" y="744" width="3" height="41" fill="#00ff00"/>
<rect x="916" y="744" width="3" height="47" fill="#00ff00"/>
<rect x="924" y="744" width="3" height="53" fill="#00ff00"/>
<rect x="932" y="744" width="3" height="58" fill="#00ff00"/>
<rect x="940" y="744" width="3" height="63" fill="#00ff00"/>
<rect x="948" y="744" width="3" height="66" fill="#00ff00"/>
<rect x="956" y="744" width="3" height="66" fill="#00ff00"/>
<rect x="964" y="744" width="3" height="67" fill="#00ff00"/>
<rect x="972" y="744" width="3" height="70" fill="#00ff00"/>
<rect x="980" y="744" width="3" height="73" fill="#00ff00"/>
<rect x="988" y="744" width="3" height="89" fill="#00ff00"/>
<rect x="996" y="744" width="3" height="100" fill="#00ff00"/>
<rect x="1004" y="744" width="3" height="107" fill="#00ff00"/>
<rect x="1012" y="744" width="3" height="113" fill="#00ff00"/>
<rect x="1020" y="744" width="3" height="111" fill="#00ff00"/>
<rect x="1028" y="744" width="3" height="107" fill="#00ff00"/>
<rect x="1036" y="744" width="3" height="101" fill="#00ff00"/>
<rect x="1044" y="744" width="3" height="96" fill="#00ff00"/>
<rect x="1052" y="744" width="3" height="86" fill="#00ff00"/>
<rect x="1060" y="744" width="3" height="77" fill="#00ff00"/>
<rect x="1068" y="744" width="3" height="65" fill="#00ff00"/>
<rect x="1076" y="744" width="3" height="53" fill="#00ff00"/>
<rect x="1084" y="744" width="3" height="49" fill="#00ff00"/>
<rect x="1092" y="744" width="3" height="48" fill="#00ff00"/>
<rect x="1100" y="744" width="3" height="47" fill="#00ff00"/>
<rect x="1108" y="744" width="3" height="39" fill="#00ff00"/>
<rect x="1116" y="744" width="3" height="34" fill="#00ff00"/>
<rect x="1124" y="744" width="3" height="34" fill="#00ff00"/>
<rect x="1132" y="744" width="3" height="43" fill="#00ff00"/>
<rect x="1140" y="744" width="3" height="49" fill="#00ff00"/>
<rect x="1148" y="744" width="3" height="52" fill="#00ff00"/>
<rect x="1156" y="744" width="3" height="54" fill="#00ff00"/>
<rect x="1164" y="744" width="3" height="58" fill="#00ff00"/>
<rect x="1172" y="744" width="3" height="65" fill="#00ff00"/>
<rect x="1180" y="744" width="3" height="67" fill="#00ff00"/>
<rect x="1188" y="744" width="3" height="68" fill="#00ff00"/>
<rect x="1196" y="744" width="3" height="68" fill="#00ff00"/>
<rect x="1204" y="744" width="3" height="72" fill="#00ff00"/>
<rect x="1212" y="744" width="3" height="73" fill="#00ff00"/>
<rect x="1220" y="744" width="3" height="70" fill="#00ff00"/>
<rect x="1228" y="744" width="3" height="66" fill="#00ff00"/>
<rect x="1236" y="744" width="3" height="65" fill="#00ff00"/>
<rect x="1244" y="744" width="3" height="62" fill="#00ff00"/>
<rect x="1252" y="744" width="3" height="60" fill="#00ff00"/>
<rect x="1260" y="744" width="3" height="60" fill="#00ff00"/>
<rect x="1268" y="744" width="3" height="59" fill="#00ff00"/>
<rect x="1276" y="744" width="3" height="45" fill="#00ff00"/>
<rect x="1284" y="744" width="3" height="33" fill="#00ff00"/>
<polyline points="5.5,791.0 13.5,791.0 21.5,790.0 29.5,793.0 37.5,799.0 45.5,807.0 53.5,814.0 61.5,819.5 69.5,823.0 77.5,827.0 85.5,830.5 93.5,834.5 101.5,835.5 109.5,835.5 117.5,834.5 125.5,832.5 133.5,831.5 141.5,830.5 149.5,829.5 157.5,827.5 165.5,823.5 173.5,817.0 181.5,810.0 189.5,804.0 197.5,795.5 205.5,787.0 213.5,778.0 221.5,767.0 229.5,756.0 237.5,747.0 245.5,739.5 253.5,734.5 261.5,730.0 269.5,723.0 277.5,714.5 285.5,708.0 293.5,702.0 301.5,696.0 309.5,691.0 317.5,687.0 325.5,685.0 333.5,686.5 341.5,691.0 349.5,699.5 357.5,710.5 365.5,722.5 373.5,733.5 381.5,745.5 389.5,754.5 397.5,761.5 405.5,764.0 413.5,764.0 421.5,762.5 429.5,757.0 437.5,753.5 445.5,750.5 453.5,748.5 461.5,748.0 469.5,750.0 477.5,753.0 485.5,757.0 493.5,761.5 501.5,766.5 509.5,770.5 517.5,771.0 525.5,771.5 533.5,770.0 541.5,766.5 549.5,761.0 557.5,753.5 565.5,748.0 573.5,741.0 581.5,735.0 589.5,733.5 597.5,731.0 605.5,730.5 613.5,731.5 621.5,732.5 629.5,733.5 637.5,734.0 645.5,734.0 653.5,736.0 661.5,740.0 669.5,745.5 677.5,749.5 685.5,754.5 693.5,758.5 701.5,763.5 709.5,769.0 717.5,774.0 725.5,778.5 733.5,783.5 741.5,788.5 749.5,790.0 757.5,790.0 765.5,789.0 773.5,787.0 781.5,784.5 789.5,779.0 797.5,772.0 805.5,763.5 813.5,753.5 821.5,745.5 829.5,740.0 837.5,737.0 845.5,735.0 853.5,734.5 861.5,735.5 869.5,737.5 877.5,739.5 885.5,741.5 893.5,745.0 901.5,750.0 909.5,755.0 917.5,761.0 925.5,766.0 933.5,773.0 941.5,779.5 949.5,786.0 957.5,793.0 965.5,798.5 973.5,802.0 981.5,806.5 989.5,810.0 997.5,815.5 1005.5,821.0 1013.5,826.5 1021.5,831.5 1029.5,836.5 1037.5,840.5 1045.5,843.5 1053.5,844.0 1061.5,843.5 1069.5,840.0 1077.5,834.5 1085.5,827.0 1093.5,819.5 1101.5,812.0 1109.5,805.0 1117.5,798.0 1125.5,792.0 1133.5,789.0 1141.5,787.5 1149.5,787.0 1157.5,787.5 1165.5,788.0 1173.5,790.5 1181.5,794.0 1189.5,797.5 1197.5,801.5 1205.5,804.5 1213.5,807.5 1221.5,809.5 1229.5,811.0 1237.5,811.0 1245.5,811.0 1253.5,810.5 1261.5,809.5 1269.5,808.5 1277.5,805.5 1285.5,802.0" fill="none" stroke="#ff0000" stroke-width="2" stroke-linejoin="round"/>
</g>
<g shape-rendering="crispEdges">
<rect x="5" y="37" width="1618" height="3" fill="#000"/>
<rect x="5" y="123" width="1618" height="3" fill="#000"/>
<rect x="5" y="256" width="1618" height="3" fill="#000"/>
<rect x="5" y="376" width="1618" height="3" fill="#000"/>
<rect x="5" y="522" width="1618" height="3" fill="#0000cc"/>
<rect x="5" y="585" width="1618" height="3" fill="#0000cc"/>
</g>
<line x1="1295.7" y1="523.4" x2="1325" y2="419.7" stroke="#ff0000" stroke-width="5.5" stroke-linecap="round"/>
<polygon points="1334.2,385.5 1313.3,415.8 1336.3,422.4" fill="#ff0000"/>
<polygon points="1292.5,5 1302,5 1297.25,10" fill="#708090"/>
<g shape-rendering="crispEdges">
<rect x="4" y="4" width="1620" height="1" fill="#000"/>
<rect x="4" y="653" width="1620" height="1" fill="#000"/>
<rect x="4" y="4" width="1" height="650" fill="#000"/>
<rect x="1623" y="4" width="1" height="650" fill="#000"/>
<rect x="4" y="655" width="1620" height="1" fill="#000"/>
<rect x="4" y="866" width="1620" height="1" fill="#000"/>
<rect x="4" y="655" width="1" height="212" fill="#000"/>
<rect x="1623" y="655" width="1" height="212" fill="#000"/>
<rect x="1624" y="23" width="2" height="1" fill="#000"/>
<rect x="1624" y="56" width="2" height="1" fill="#000"/>
<rect x="1624" y="89" width="2" height="1" fill="#000"/>
<rect x="1624" y="122" width="2" height="1" fill="#000"/>
<rect x="1624" y="155" width="2" height="1" fill="#000"/>
<rect x="1624" y="188" width="2" height="1" fill="#000"/>
<rect x="1624" y="221" width="2" height="1" fill="#000"/>
<rect x="1624" y="254" width="2" height="1" fill="#000"/>
<rect x="1624" y="287" width="2" height="1" fill="#000"/>
<rect x="1624" y="320" width="2" height="1" fill="#000"/>
<rect x="1624" y="353" width="2" height="1" fill="#000"/>
<rect x="1624" y="386" width="2" height="1" fill="#000"/>
<rect x="1624" y="419" width="2" height="1" fill="#000"/>
<rect x="1624" y="452" width="2" height="1" fill="#000"/>
<rect x="1624" y="485" width="2" height="1" fill="#000"/>
<rect x="1624" y="518" width="2" height="1" fill="#000"/>
<rect x="1624" y="551" width="2" height="1" fill="#000"/>
<rect x="1624" y="584" width="2" height="1" fill="#000"/>
<rect x="1624" y="617" width="2" height="1" fill="#000"/>
<rect x="1624" y="650" width="2" height="1" fill="#000"/>
<rect x="1624" y="657" width="1" height="1" fill="#000"/>
<rect x="1624" y="744" width="1" height="1" fill="#000"/>
<rect x="1624" y="865" width="1" height="1" fill="#000"/>
<rect x="5" y="867" width="1" height="3" fill="#000"/>
<rect x="69" y="867" width="1" height="3" fill="#000"/>
<rect x="133" y="867" width="1" height="3" fill="#000"/>
<rect x="197" y="867" width="1" height="3" fill="#000"/>
<rect x="261" y="867" width="1" height="3" fill="#000"/>
<rect x="325" y="867" width="1" height="3" fill="#000"/>
<rect x="389" y="867" width="1" height="3" fill="#000"/>
<rect x="453" y="867" width="1" height="3" fill="#000"/>
<rect x="517" y="867" width="1" height="3" fill="#000"/>
<rect x="581" y="867" width="1" height="3" fill="#000"/>
<rect x="645" y="867" width="1" height="3" fill="#000"/>
<rect x="709" y="867" width="1" height="3" fill="#000"/>
<rect x="773" y="867" width="1" height="3" fill="#000"/>
<rect x="837" y="867" width="1" height="3" fill="#000"/>
<rect x="901" y="867" width="1" height="3" fill="#000"/>
<rect x="965" y="867" width="1" height="3" fill="#000"/>
<rect x="1029" y="867" width="1" height="3" fill="#000"/>
<rect x="1093" y="867" width="1" height="3" fill="#000"/>
<rect x="1157" y="867" width="1" height="3" fill="#000"/>
<rect x="1221" y="867" width="1" height="3" fill="#000"/>
<rect x="1285" y="867" width="1" height="3" fill="#000"/>
</g>
<text transform="translate(1629.2,27) scale(0.9,1)" fill="#000" stroke="#000" stroke-width="0.3" letter-spacing="0" font-size="10.2">1985.30</text>
<text transform="translate(1629.2,60) scale(0.9,1)" fill="#000" stroke="#000" stroke-width="0.3" letter-spacing="0" font-size="10.2">1980.35</text>
<text transform="translate(1629.2,93) scale(0.9,1)" fill="#000" stroke="#000" stroke-width="0.3" letter-spacing="0" font-size="10.2">1975.40</text>
<text transform="translate(1629.2,159) scale(0.9,1)" fill="#000" stroke="#000" stroke-width="0.3" letter-spacing="0" font-size="10.2">1965.35</text>
<text transform="translate(1629.2,192) scale(0.9,1)" fill="#000" stroke="#000" stroke-width="0.3" letter-spacing="0" font-size="10.2">1960.40</text>
<text transform="translate(1629.2,225) scale(0.9,1)" fill="#000" stroke="#000" stroke-width="0.3" letter-spacing="0" font-size="10.2">1955.45</text>
<text transform="translate(1629.2,291) scale(0.9,1)" fill="#000" stroke="#000" stroke-width="0.3" letter-spacing="0" font-size="10.2">1945.55</text>
<text transform="translate(1629.2,324) scale(0.9,1)" fill="#000" stroke="#000" stroke-width="0.3" letter-spacing="0" font-size="10.2">1940.60</text>
<text transform="translate(1629.2,357) scale(0.9,1)" fill="#000" stroke="#000" stroke-width="0.3" letter-spacing="0" font-size="10.2">1935.65</text>
<text transform="translate(1629.2,390) scale(0.9,1)" fill="#000" stroke="#000" stroke-width="0.3" letter-spacing="0" font-size="10.2">1930.55</text>
<text transform="translate(1629.2,423) scale(0.9,1)" fill="#000" stroke="#000" stroke-width="0.3" letter-spacing="0" font-size="10.2">1925.60</text>
<text transform="translate(1629.2,456) scale(0.9,1)" fill="#000" stroke="#000" stroke-width="0.3" letter-spacing="0" font-size="10.2">1920.65</text>
<text transform="translate(1629.2,489) scale(0.9,1)" fill="#000" stroke="#000" stroke-width="0.3" letter-spacing="0" font-size="10.2">1915.70</text>
<text transform="translate(1629.2,522) scale(0.9,1)" fill="#000" stroke="#000" stroke-width="0.3" letter-spacing="0" font-size="10.2">1910.75</text>
<text transform="translate(1629.2,555) scale(0.9,1)" fill="#000" stroke="#000" stroke-width="0.3" letter-spacing="0" font-size="10.2">1905.80</text>
<text transform="translate(1629.2,621) scale(0.9,1)" fill="#000" stroke="#000" stroke-width="0.3" letter-spacing="0" font-size="10.2">1895.90</text>
<text transform="translate(1629.2,654) scale(0.9,1)" fill="#000" stroke="#000" stroke-width="0.3" letter-spacing="0" font-size="10.2">1890.95</text>
<text transform="translate(1626.8,666) scale(0.96,1)" fill="#000" stroke="#000" stroke-width="0.3" letter-spacing="0" font-size="10.2">7.118</text>
<text transform="translate(1627.8,748) scale(0.93,1)" fill="#000" stroke="#000" stroke-width="0.3" letter-spacing="0" font-size="10.2">0.00</text>
<text transform="translate(1626.8,863) scale(0.93,1)" fill="#000" stroke="#000" stroke-width="0.3" letter-spacing="0" font-size="10.2">-9.945</text>
<g shape-rendering="crispEdges">
<rect x="1625" y="32" width="41" height="11" fill="#000"/>
<rect x="1625" y="118" width="41" height="11" fill="#000"/>
<rect x="1625" y="251" width="41" height="11" fill="#000"/>
<rect x="1625" y="371" width="41" height="11" fill="#000"/>
<rect x="1625" y="459" width="41" height="11" fill="#000"/>
<rect x="1625" y="517" width="41" height="11" fill="#0000cc"/>
<rect x="1625" y="580" width="41" height="11" fill="#0000cc"/>
</g>
<text transform="translate(1629.2,41) scale(0.9,1)" fill="#fff" stroke="#fff" stroke-width="0.3" letter-spacing="0" font-size="10.2">1983.00</text>
<text transform="translate(1629.2,127) scale(0.9,1)" fill="#fff" stroke="#fff" stroke-width="0.3" letter-spacing="0" font-size="10.2">1970.00</text>
<text transform="translate(1629.2,260) scale(0.9,1)" fill="#fff" stroke="#fff" stroke-width="0.3" letter-spacing="0" font-size="10.2">1950.00</text>
<text transform="translate(1629.2,380) scale(0.9,1)" fill="#fff" stroke="#fff" stroke-width="0.3" letter-spacing="0" font-size="10.2">1932.00</text>
<text transform="translate(1629.2,468) scale(0.9,1)" fill="#fff" stroke="#fff" stroke-width="0.3" letter-spacing="0" font-size="10.2">1918.89</text>
<text transform="translate(1629.2,526) scale(0.9,1)" fill="#fff" stroke="#fff" stroke-width="0.3" letter-spacing="0" font-size="10.2">1910.00</text>
<text transform="translate(1629.2,589) scale(0.9,1)" fill="#fff" stroke="#fff" stroke-width="0.3" letter-spacing="0" font-size="10.2">1900.57</text>
<g shape-rendering="crispEdges">
<rect x="8" y="11" width="7" height="1" fill="#000"/>
<rect x="9" y="12" width="5" height="1" fill="#000"/>
<rect x="10" y="13" width="3" height="1" fill="#000"/>
<rect x="11" y="14" width="1" height="1" fill="#000"/>
</g>
<text transform="translate(19.6,16) scale(0.918,1)" fill="#000" stroke="#000" stroke-width="0.3" letter-spacing="0" font-size="10.2">XAUUSD-,H4&#160;&#160;1918.91 1922.60 1917.33 1918.89</text>
<text transform="translate(9.3,668) scale(0.93,1)" fill="#000" stroke="#000" stroke-width="0.3" letter-spacing="0" font-size="10.2">MACD(12,26,9) -2.637 -4.672</text>
<text transform="translate(4.2,879) scale(0.93,1)" fill="#000" stroke="#000" stroke-width="0.3" letter-spacing="0" font-size="10.2">25 May 2023</text>
<text transform="translate(68.2,879) scale(0.93,1)" fill="#000" stroke="#000" stroke-width="0.3" letter-spacing="0" font-size="10.2">26 May 08:00</text>
<text transform="translate(132.2,879) scale(0.93,1)" fill="#000" stroke="#000" stroke-width="0.3" letter-spacing="0" font-size="10.2">29 May 16:00</text>
<text transform="translate(196.2,879) scale(0.93,1)" fill="#000" stroke="#000" stroke-width="0.3" letter-spacing="0" font-size="10.2">31 May 00:00</text>
<text transform="translate(260.2,879) scale(0.93,1)" fill="#000" stroke="#000" stroke-width="0.3" letter-spacing="0" font-size="10.2">1 Jun 08:00</text>
<text transform="translate(324.2,879) scale(0.93,1)" fill="#000" stroke="#000" stroke-width="0.3" letter-spacing="0" font-size="10.2">2 Jun 16:00</text>
<text transform="translate(388.2,879) scale(0.93,1)" fill="#000" stroke="#000" stroke-width="0.3" letter-spacing="0" font-size="10.2">6 Jun 00:00</text>
<text transform="translate(452.2,879) scale(0.93,1)" fill="#000" stroke="#000" stroke-width="0.3" letter-spacing="0" font-size="10.2">7 Jun 08:00</text>
<text transform="translate(516.2,879) scale(0.93,1)" fill="#000" stroke="#000" stroke-width="0.3" letter-spacing="0" font-size="10.2">8 Jun 16:00</text>
<text transform="translate(580.2,879) scale(0.93,1)" fill="#000" stroke="#000" stroke-width="0.3" letter-spacing="0" font-size="10.2">12 Jun 00:00</text>
<text transform="translate(644.2,879) scale(0.93,1)" fill="#000" stroke="#000" stroke-width="0.3" letter-spacing="0" font-size="10.2">13 Jun 08:00</text>
<text transform="translate(708.2,879) scale(0.93,1)" fill="#000" stroke="#000" stroke-width="0.3" letter-spacing="0" font-size="10.2">14 Jun 16:00</text>
<text transform="translate(772.2,879) scale(0.93,1)" fill="#000" stroke="#000" stroke-width="0.3" letter-spacing="0" font-size="10.2">16 Jun 00:00</text>
<text transform="translate(836.2,879) scale(0.93,1)" fill="#000" stroke="#000" stroke-width="0.3" letter-spacing="0" font-size="10.2">19 Jun 08:00</text>
<text transform="translate(900.2,879) scale(0.93,1)" fill="#000" stroke="#000" stroke-width="0.3" letter-spacing="0" font-size="10.2">20 Jun 16:00</text>
<text transform="translate(964.2,879) scale(0.93,1)" fill="#000" stroke="#000" stroke-width="0.3" letter-spacing="0" font-size="10.2">22 Jun 00:00</text>
<text transform="translate(1028.2,879) scale(0.93,1)" fill="#000" stroke="#000" stroke-width="0.3" letter-spacing="0" font-size="10.2">23 Jun 08:00</text>
<text transform="translate(1092.2,879) scale(0.93,1)" fill="#000" stroke="#000" stroke-width="0.3" letter-spacing="0" font-size="10.2">26 Jun 16:00</text>
<text transform="translate(1156.2,879) scale(0.93,1)" fill="#000" stroke="#000" stroke-width="0.3" letter-spacing="0" font-size="10.2">28 Jun 00:00</text>
<text transform="translate(1220.2,879) scale(0.93,1)" fill="#000" stroke="#000" stroke-width="0.3" letter-spacing="0" font-size="10.2">29 Jun 08:00</text>
<text transform="translate(1284.2,879) scale(0.93,1)" fill="#000" stroke="#000" stroke-width="0.3" letter-spacing="0" font-size="10.2">30 Jun 16:00</text>
</svg>
</body></html>
